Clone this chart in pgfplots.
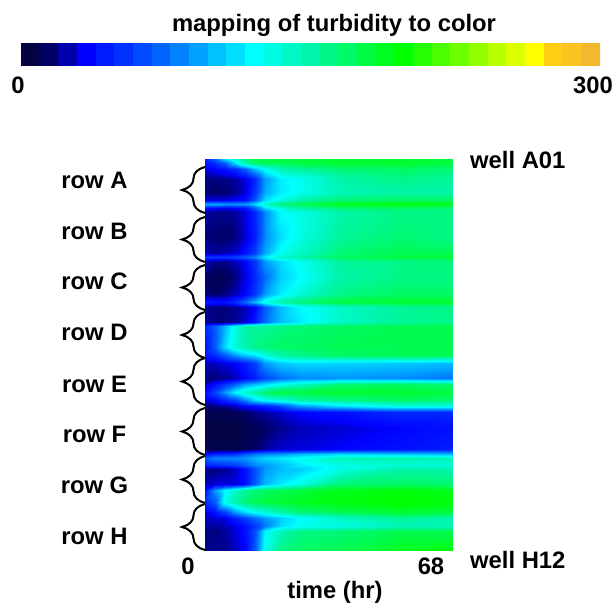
\documentclass[border=0pt]{standalone}
\usepackage{pgfplots}
\pgfplotsset{compat=1.18}
\usepackage{fontspec}
\setmainfont{Liberation Sans}
\usetikzlibrary{decorations.pathreplacing}
\pgfplotsset{colormap={turb}{rgb255(0)=(5,5,50) rgb255(15)=(0,0,100) rgb255(34)=(0,0,255) rgb255(73)=(0,100,255) rgb255(121)=(0,255,255) rgb255(150)=(0,245,170) rgb255(198)=(0,255,0) rgb255(266)=(255,255,0) rgb255(276)=(255,205,20) rgb255(300)=(240,180,50)}}
\begin{document}
\begin{tikzpicture}[x=1pt,y=1pt,every node/.style={font=\fontsize{23.8}{26}\selectfont\bfseries,inner sep=0pt}]
\path[use as bounding box] (0,0) rectangle (614,604);
% colour bar
\begin{axis}[at={(21pt,538pt)},anchor=south west,width=579pt,height=23pt,scale only axis,hide axis,
  colormap name=turb,point meta min=0,point meta max=300,view={0}{90},xmin=0,xmax=31,ymin=0,ymax=1]
\addplot[surf,shader=flat corner,mesh/cols=32,point meta=explicit] table[meta index=2,row sep=\\]{
0 0 5\\1 0 15\\2 0 24\\3 0 34\\4 0 44\\5 0 53\\6 0 63\\7 0 73\\8 0 82\\9 0 92\\10 0 102\\11 0 111\\12 0 121\\13 0 131\\14 0 140\\15 0 150\\16 0 160\\17 0 169\\18 0 179\\19 0 189\\20 0 198\\21 0 208\\22 0 218\\23 0 227\\24 0 237\\25 0 247\\26 0 256\\27 0 266\\28 0 276\\29 0 285\\30 0 295\\31 0 295\\
0 1 5\\1 1 15\\2 1 24\\3 1 34\\4 1 44\\5 1 53\\6 1 63\\7 1 73\\8 1 82\\9 1 92\\10 1 102\\11 1 111\\12 1 121\\13 1 131\\14 1 140\\15 1 150\\16 1 160\\17 1 169\\18 1 179\\19 1 189\\20 1 198\\21 1 208\\22 1 218\\23 1 227\\24 1 237\\25 1 247\\26 1 256\\27 1 266\\28 1 276\\29 1 285\\30 1 295\\31 1 295\\
};
\end{axis}
% heat map
\begin{axis}[at={(205pt,53pt)},anchor=south west,width=248pt,height=392pt,scale only axis,hide axis,
  colormap name=turb,point meta min=0,point meta max=300,view={0}{90},xmin=0,xmax=68,ymin=0,ymax=96,y dir=reverse]
\addplot[surf,shader=interp,mesh/cols=12,point meta=explicit] table[meta index=2,row sep=\\]{
0 0 45\\2.7 0 70\\5.5 0 110\\8.2 0 140\\11 0 165\\13.7 0 175\\16.5 0 180\\20.6 0 180\\26 0 180\\37 0 185\\53.5 0 185\\68 0 180\\
0 1 40\\2.7 1 50\\5.5 1 70\\8.2 1 110\\11 1 150\\13.7 1 170\\16.5 1 175\\20.6 1 175\\26 1 180\\37 1 185\\53.5 1 185\\68 1 180\\
0 2.5 30\\2.7 2.5 35\\5.5 2.5 40\\8.2 2.5 50\\11 2.5 70\\13.7 2.5 100\\16.5 2.5 125\\20.6 2.5 145\\26 2.5 155\\37 2.5 165\\53.5 2.5 170\\68 2.5 165\\
0 5 18\\2.7 5 18\\5.5 5 20\\8.2 5 22\\11 5 30\\13.7 5 50\\16.5 5 90\\20.6 5 115\\26 5 125\\37 5 150\\53.5 5 160\\68 5 155\\
0 8 18\\2.7 8 15\\5.5 8 16\\8.2 8 20\\11 8 28\\13.7 8 55\\16.5 8 95\\20.6 8 115\\26 8 125\\37 8 145\\53.5 8 150\\68 8 150\\
0 10 30\\2.7 10 30\\5.5 10 30\\8.2 10 35\\11 10 40\\13.7 10 70\\16.5 10 110\\20.6 10 130\\26 10 150\\37 10 165\\53.5 10 170\\68 10 170\\
0 11 95\\2.7 11 95\\5.5 11 90\\8.2 11 90\\11 11 90\\13.7 11 110\\16.5 11 140\\20.6 11 165\\26 11 175\\37 11 190\\53.5 11 195\\68 11 190\\
0 12 40\\2.7 12 35\\5.5 12 30\\8.2 12 35\\11 12 40\\13.7 12 70\\16.5 12 110\\20.6 12 130\\26 12 150\\37 12 165\\53.5 12 170\\68 12 165\\
0 13 22\\2.7 13 20\\5.5 13 20\\8.2 13 22\\11 13 30\\13.7 13 50\\16.5 13 85\\20.6 13 120\\26 13 130\\37 13 150\\53.5 13 160\\68 13 160\\
0 19 18\\2.7 19 16\\5.5 19 15\\8.2 19 18\\11 19 28\\13.7 19 45\\16.5 19 85\\20.6 19 110\\26 19 130\\37 19 155\\53.5 19 165\\68 19 160\\
0 23 25\\2.7 23 22\\5.5 23 25\\8.2 23 28\\11 23 40\\13.7 23 60\\16.5 23 95\\20.6 23 125\\26 23 140\\37 23 165\\53.5 23 175\\68 23 175\\
0 24 55\\2.7 24 55\\5.5 24 55\\8.2 24 60\\11 24 70\\13.7 24 85\\16.5 24 115\\20.6 24 140\\26 24 150\\37 24 170\\53.5 24 180\\68 24 180\\
0 25 25\\2.7 25 20\\5.5 25 20\\8.2 25 25\\11 25 35\\13.7 25 55\\16.5 25 90\\20.6 25 110\\26 25 125\\37 25 155\\53.5 25 160\\68 25 165\\
0 29 15\\2.7 29 10\\5.5 29 12\\8.2 29 18\\11 29 30\\13.7 29 50\\16.5 29 75\\20.6 29 105\\26 29 120\\37 29 150\\53.5 29 160\\68 29 160\\
0 33 18\\2.7 33 15\\5.5 33 18\\8.2 33 25\\11 33 35\\13.7 33 55\\16.5 33 90\\20.6 33 115\\26 33 135\\37 33 160\\53.5 33 170\\68 33 170\\
0 35 45\\2.7 35 40\\5.5 35 40\\8.2 35 50\\11 35 75\\13.7 35 100\\16.5 35 130\\20.6 35 150\\26 35 165\\37 35 180\\53.5 35 185\\68 35 185\\
0 36.2 20\\2.7 36.2 18\\5.5 36.2 18\\8.2 36.2 20\\11 36.2 25\\13.7 36.2 35\\16.5 36.2 70\\20.6 36.2 100\\26 36.2 120\\37 36.2 140\\53.5 36.2 155\\68 36.2 160\\
0 40 20\\2.7 40 18\\5.5 40 18\\8.2 40 22\\11 40 28\\13.7 40 45\\16.5 40 75\\20.6 40 100\\26 40 115\\37 40 140\\53.5 40 155\\68 40 160\\
0 41 50\\2.7 41 70\\5.5 41 100\\8.2 41 130\\11 41 150\\13.7 41 155\\16.5 41 155\\20.6 41 160\\26 41 165\\37 41 170\\53.5 41 175\\68 41 175\\
0 46 40\\2.7 46 70\\5.5 46 110\\8.2 46 135\\11 46 150\\13.7 46 160\\16.5 46 165\\20.6 46 170\\26 46 170\\37 46 175\\53.5 46 175\\68 46 175\\
0 48 40\\2.7 48 50\\5.5 48 70\\8.2 48 90\\11 48 105\\13.7 48 115\\16.5 48 135\\20.6 48 150\\26 48 160\\37 48 170\\53.5 48 175\\68 48 175\\
0 50 25\\2.7 50 25\\5.5 50 30\\8.2 50 35\\11 50 45\\13.7 50 60\\16.5 50 90\\20.6 50 105\\26 50 110\\37 50 108\\53.5 50 105\\68 50 100\\
0 53.6 18\\2.7 53.6 18\\5.5 53.6 20\\8.2 53.6 25\\11 53.6 35\\13.7 53.6 45\\16.5 53.6 62\\20.6 53.6 75\\26 53.6 85\\37 53.6 88\\53.5 53.6 85\\68 53.6 78\\
0 55 25\\2.7 55 40\\5.5 55 55\\8.2 55 70\\11 55 90\\13.7 55 100\\16.5 55 110\\20.6 55 125\\26 55 140\\37 55 165\\53.5 55 170\\68 55 165\\
0 57 40\\2.7 57 60\\5.5 57 90\\8.2 57 120\\11 57 140\\13.7 57 155\\16.5 57 170\\20.6 57 180\\26 57 180\\37 57 185\\53.5 57 185\\68 57 180\\
0 59 30\\2.7 59 35\\5.5 59 50\\8.2 59 60\\11 59 85\\13.7 59 110\\16.5 59 125\\20.6 59 135\\26 59 150\\37 59 160\\53.5 59 170\\68 59 165\\
0 60.5 15\\2.7 60.5 18\\5.5 60.5 20\\8.2 60.5 25\\11 60.5 35\\13.7 60.5 40\\16.5 60.5 45\\20.6 60.5 60\\26 60.5 90\\37 60.5 110\\53.5 60.5 130\\68 60.5 130\\
0 62 10\\2.7 62 10\\5.5 62 10\\8.2 62 12\\11 62 15\\13.7 62 20\\16.5 62 22\\20.6 62 28\\26 62 35\\37 62 40\\53.5 62 50\\68 62 50\\
0 66 5\\2.7 66 5\\5.5 66 5\\8.2 66 5\\11 66 8\\13.7 66 12\\16.5 66 15\\20.6 66 20\\26 66 25\\37 66 28\\53.5 66 35\\68 66 40\\
0 71 8\\2.7 71 8\\5.5 71 8\\8.2 71 8\\11 71 10\\13.7 71 15\\16.5 71 22\\20.6 71 28\\26 71 30\\37 71 35\\53.5 71 40\\68 71 45\\
0 72.2 40\\2.7 72.2 50\\5.5 72.2 50\\8.2 72.2 55\\11 72.2 70\\13.7 72.2 80\\16.5 72.2 85\\20.6 72.2 90\\26 72.2 100\\37 72.2 110\\53.5 72.2 105\\68 72.2 100\\
0 73.2 70\\2.7 73.2 85\\5.5 73.2 85\\8.2 73.2 85\\11 73.2 90\\13.7 73.2 100\\16.5 73.2 110\\20.6 73.2 115\\26 73.2 125\\37 73.2 145\\53.5 73.2 150\\68 73.2 145\\
0 75 45\\2.7 75 50\\5.5 75 55\\8.2 75 60\\11 75 70\\13.7 75 85\\16.5 75 90\\20.6 75 100\\26 75 115\\37 75 130\\53.5 75 135\\68 75 135\\
0 76 18\\2.7 76 18\\5.5 76 20\\8.2 76 25\\11 76 40\\13.7 76 65\\16.5 76 90\\20.6 76 100\\26 76 105\\37 76 130\\53.5 76 150\\68 76 150\\
0 79.5 25\\2.7 79.5 30\\5.5 79.5 30\\8.2 79.5 30\\11 79.5 40\\13.7 79.5 70\\16.5 79.5 100\\20.6 79.5 115\\26 79.5 130\\37 79.5 165\\53.5 79.5 170\\68 79.5 165\\
0 81 40\\2.7 81 90\\5.5 81 120\\8.2 81 140\\11 81 155\\13.7 81 165\\16.5 81 170\\20.6 81 175\\26 81 180\\37 81 190\\53.5 81 195\\68 81 190\\
0 84 50\\2.7 84 70\\5.5 84 130\\8.2 84 150\\11 84 165\\13.7 84 175\\16.5 84 180\\20.6 84 185\\26 84 190\\37 84 195\\53.5 84 200\\68 84 195\\
0 86.5 30\\2.7 86.5 40\\5.5 86.5 60\\8.2 86.5 90\\11 86.5 110\\13.7 86.5 125\\16.5 86.5 135\\20.6 86.5 150\\26 86.5 165\\37 86.5 175\\53.5 86.5 185\\68 86.5 180\\
0 88 25\\2.7 88 28\\5.5 88 30\\8.2 88 45\\11 88 60\\13.7 88 75\\16.5 88 90\\20.6 88 105\\26 88 120\\37 88 140\\53.5 88 155\\68 88 150\\
0 90 22\\2.7 90 22\\5.5 90 25\\8.2 90 30\\11 90 40\\13.7 90 55\\16.5 90 80\\20.6 90 110\\26 90 125\\37 90 130\\53.5 90 145\\68 90 145\\
0 91 18\\2.7 91 18\\5.5 91 22\\8.2 91 30\\11 91 40\\13.7 91 65\\16.5 91 120\\20.6 91 145\\26 91 160\\37 91 165\\53.5 91 175\\68 91 175\\
0 96 20\\2.7 96 20\\5.5 96 20\\8.2 96 25\\11 96 35\\13.7 96 70\\16.5 96 130\\20.6 96 160\\26 96 170\\37 96 175\\53.5 96 190\\68 96 195\\
};
\end{axis}
% braces
\begin{scope}[line width=2pt,decoration={brace,amplitude=23pt,aspect=0.5}]
\foreach \a/\b in {167/213,217/262,265/310,312/358,358/405,408/455,456/503,504/550}
  \draw[decorate] (205,604-\b) -- (205,604-\a);
\end{scope}
% texts
\node at (334,579) {mapping of turbidity to color};
\node at (18,519) {0};
\node at (593,519) {300};
\foreach \t/\y in {A/180,B/231,C/281,D/332,E/384,F/434,G/485,H/536}
  \node at (94.5,604-\y) {row \t};
\node at (188,38) {0};
\node at (431,38) {68};
\node at (335,12) {time (hr)};
\node[anchor=west] at (470,444) {well A01};
\node[anchor=west] at (470,44) {well H12};
\end{tikzpicture}
\end{document}
